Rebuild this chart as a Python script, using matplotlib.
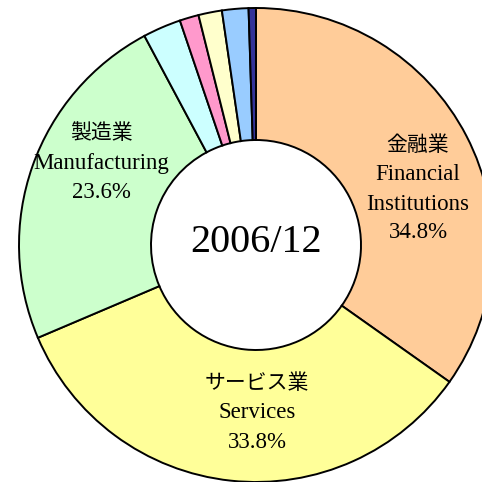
import matplotlib
matplotlib.use("Agg")
import matplotlib.pyplot as plt

# Data
categories = ["金融業\nFinancial\nInstitutions", "サービス業\nServices", "製造業\nManufacturing",
              "Other1", "Other2", "Other3", "Other4", "Other5"]
values = [34.8, 33.8, 23.6, 2.6, 1.3, 1.6, 1.8, 0.5]
pct_labels = ["34.8%", "33.8%", "23.6%"]
colors = ["#FFCC99", "#FFFF99", "#CCFFCC", "#CCFFFF", "#FF99CC", "#FFFFCC", "#99CCFF", "#333399"]
center_text = "2006/12"

W = 482
fig = plt.figure(figsize=(W / 100, W / 100), dpi=100)
ax = fig.add_axes([0, 0, 1, 1])

R_px = 237.0
cx, cy = 256.0, 245.0  # pixel center (from top-left)

ax.pie(values, colors=colors, startangle=90, counterclock=False, radius=1.0,
       wedgeprops=dict(width=1 - 105 / R_px, edgecolor="black", linewidth=1.4))

span = W / R_px
xmin = -cx / R_px
ymin = -(W - cy) / R_px
ax.set_xlim(xmin, xmin + span)
ax.set_ylim(ymin, ymin + span)
ax.set_aspect("equal")
ax.axis("off")

def px2d(px, py):
    return (px - cx) / R_px, (cy - py) / R_px

fam = ["Liberation Serif", "Noto Sans CJK JP"]
step = 29
label_centers = [(418, 146), (257, 384), (101, 134)]
for i in range(3):
    lines = categories[i].split("\n") + [pct_labels[i]]
    x0, y0 = label_centers[i]
    for j, line in enumerate(lines):
        fs = 15 if any(ord(ch) > 0x2000 for ch in line) else 16.5
        x, y = px2d(x0, y0 + j * step)
        ax.text(x, y, line, ha="center", va="center", fontsize=fs, family=fam, color="black")

x, y = px2d(256, 242)
ax.text(x, y, center_text, ha="center", va="center", fontsize=29, family=fam, color="black")

fig.savefig("out.png", dpi=100)
